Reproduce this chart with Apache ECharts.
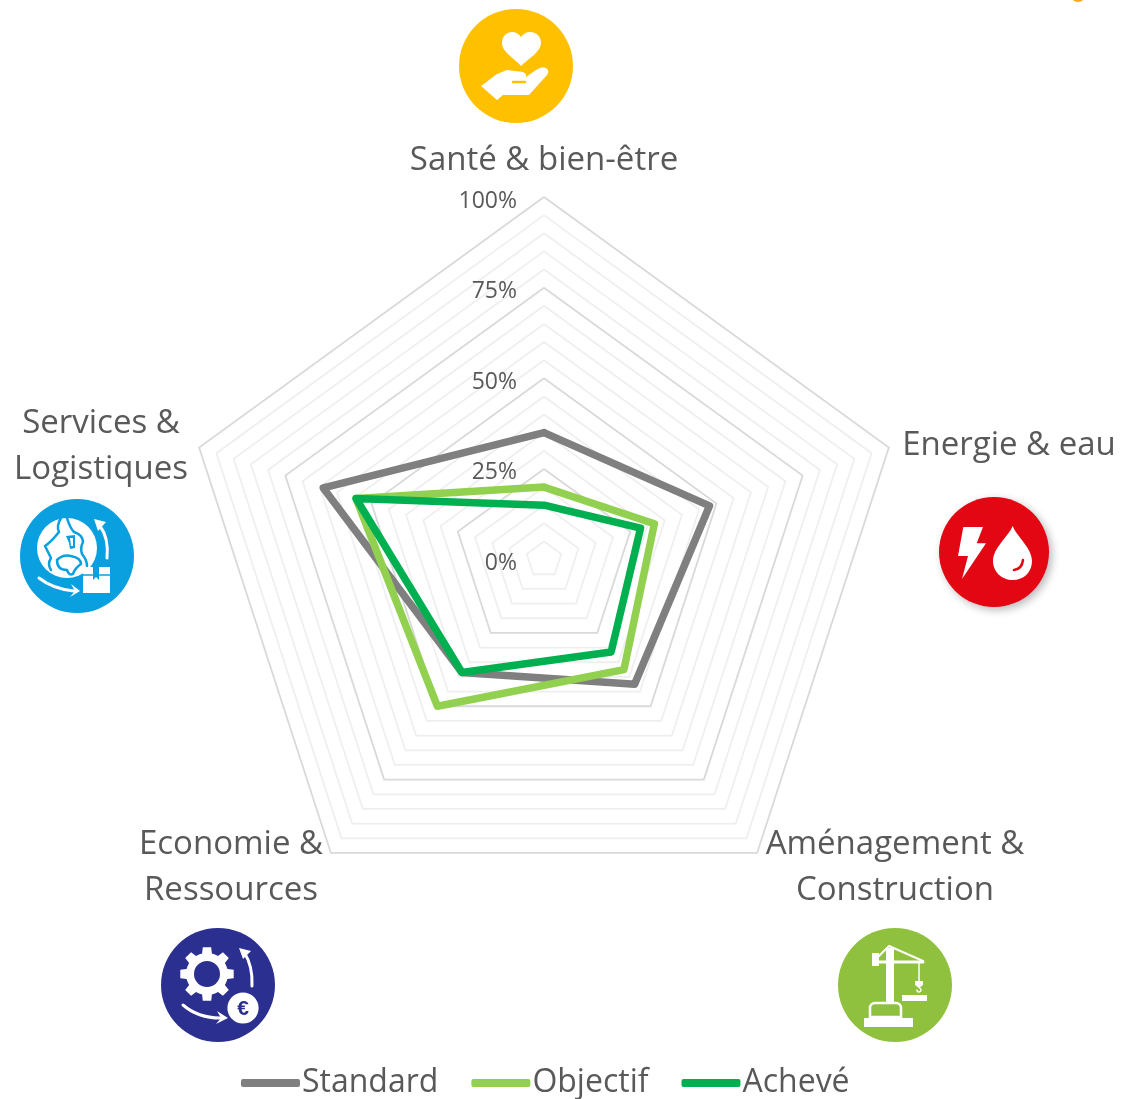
<!DOCTYPE html>
<html>
<head>
<meta charset="utf-8">
<style>
  html, body { margin: 0; padding: 0; background: #fff; }
  #radarChart { width: 1122px; height: 1099px; }
</style>
<script src="https://cdn.jsdelivr.net/npm/echarts@6/dist/echarts.min.js"></script>
</head>
<body>
<div id="radarChart"></div>
<script>
// radar axes run counter-clockwise from the top
const categories = ['Santé & bien-être', 'Services &\nLogistiques', 'Economie &\nRessources', 'Aménagement &\nConstruction', 'Energie & eau']
const standardValues = [35, 64, 38.5, 42.5, 48]
const objectifValues = [20, 54.5, 50, 37.5, 32]
const acheveValues = [15, 54.5, 38.5, 31.5, 28]

const FONT = '"Open Sans", sans-serif'
const TEXT_COLOR = '#595959'
const LABEL_SIZE = 33

// position of the category labels, same order as categories
const labelPos = [[544, 161], [101, 447], [231, 868], [895, 868], [1009, 446]]

function gearPath (cx, cy, outer, root, teeth) {
  let d = ''
  const step = Math.PI * 2 / teeth
  for (let i = 0; i < teeth; i++) {
    const a = i * step - Math.PI / 2
    const pts = [[root, a - step * 0.5], [root, a - step * 0.3], [outer, a - step * 0.2], [outer, a + step * 0.2], [root, a + step * 0.3]]
    pts.forEach((p, j) => {
      d += (i === 0 && j === 0 ? 'M' : 'L') + (cx + p[0] * Math.cos(p[1])).toFixed(1) + ' ' + (cy + p[0] * Math.sin(p[1])).toFixed(1) + ' '
    })
  }
  return d + 'Z'
}

// the graphic component has no plain path type, so each icon path gets registered as a shape
let shapeCount = 0
function pathElement (d, style) {
  const name = 'iconPath' + (shapeCount++)
  echarts.graphic.registerShape(name, echarts.graphic.extendPath(d, {}))
  return { type: name, style: style }
}
function fillPath (d, color) {
  return pathElement(d, { fill: color || '#fff' })
}
function linePath (d, color, width) {
  return pathElement(d, { fill: 'none', stroke: color || '#fff', lineWidth: width || 3, lineCap: 'round', lineJoin: 'round' })
}
function badge (x, y, r, color, children, shadow) {
  const style = { fill: color }
  if (shadow) {
    Object.assign(style, { shadowBlur: 8, shadowColor: 'rgba(0,0,0,0.28)', shadowOffsetX: 3, shadowOffsetY: 3 })
  }
  return {
    type: 'group', x: x, y: y,
    children: [{ type: 'circle', shape: { cx: 0, cy: 0, r: r }, style: style }].concat(children)
  }
}

const YELLOW = '#ffc000', RED = '#e30613', GREEN = '#8fc13e', NAVY = '#2b2f8f', BLUE = '#0a9fdf'

const healthIcon = [
  fillPath('M5 0 C-3 -9 -14 -14 -14 -23 C-14 -30 -9 -34 -4 -34 C0 -34 3 -32 5 -29 C7 -32 10 -34 14 -34 C20 -34 25 -30 25 -23 C25 -14 13 -8 5 0 Z'),
  fillPath('M-35 20 L-19 8 L-9 4 L7 6 Q11 8 10 11 L20 4 Q26 0 30 2 Q34 5 31 9 L13 29 L-13 29 L-19 34 Z'),
  linePath('M-3 16 L9 16', YELLOW, 2.5)
]
const energyIcon = [
  fillPath('M-30.7 -25 L-11 -25 L-17.3 -8.7 L-8 -8.7 L-32 27 L-26 4 L-36 4 Z'),
  fillPath('M18.7 -26 C23 -15 38 -4 38 9 C38 20 30 28 18.7 28 C8 28 -1 20 -1 9 C-1 -4 14 -15 18.7 -26 Z'),
  linePath('M29 8 Q28 17 20 18', RED, 2.5)
]
const craneIcon = [
  fillPath('M-9 -37 L-1 -37 L-1 17 L-9 17 Z'),
  fillPath('M-23 -32 L-16 -32 L-16 -19 L-23 -19 Z'),
  linePath('M-17 -23 L28 -23', '#fff', 3),
  linePath('M-17 -28 L-6 -39 L28 -24', '#fff', 2),
  linePath('M24 -23 L24 -3', '#fff', 1.5),
  fillPath('M20 -4 L28 -4 L28 0 L24 3 L20 0 Z'),
  linePath('M24 2 Q28 6 24 7 Q22 7 22 5', '#fff', 1.5),
  fillPath('M7 10 L32 10 L32 16 L7 16 Z'),
  fillPath('M-31 33 L18 33 L18 42 L-31 42 Z'),
  { type: 'rect', shape: { x: -25, y: 18, width: 31, height: 14, r: [5, 5, 0, 0] }, style: { fill: 'none', stroke: '#fff', lineWidth: 2.5 } }
]
const economyIcon = [
  fillPath(gearPath(-11, -11, 27, 21, 8)),
  { type: 'circle', shape: { cx: -11, cy: -11, r: 13 }, style: { fill: NAVY } },
  linePath('M34 1 Q35 -19 26 -33', '#fff', 3),
  fillPath('M21 -37 L33 -34 L25 -26 Z'),
  linePath('M-35 20 Q-20 33 2 33', '#fff', 3),
  fillPath('M-1 26 L3 33 L-2 39 L10 33 Z'),
  { type: 'circle', shape: { cx: 25, cy: 23, r: 15.6 }, style: { fill: '#fff' } },
  { type: 'text', x: 25, y: 24, style: { text: '€', fill: NAVY, font: 'bold 21px "Liberation Sans", sans-serif', align: 'center', verticalAlign: 'middle' } }
]
const logisticsIcon = [
  { type: 'circle', shape: { cx: -10, cy: -8, r: 30 }, style: { fill: '#fff' } },
  linePath('M-16 -38 Q-21 -30 -18 -24 Q-26 -14 -32 -10 Q-28 -2 -26 2 Q-30 8 -26 14', BLUE, 2.5),
  linePath('M-10 -38 Q-7 -28 -3 -24 Q6 -21 6 -14 Q3 -8 5 -2 Q10 4 10 10', BLUE, 2.5),
  linePath('M-20 4 Q-14 -2 -6 0 Q4 2 4 8 Q-2 12 -4 18 Q-8 20 -10 14 Q-20 14 -20 4 Z', BLUE, 2.5),
  fillPath('M-11 -20 L-2 -21 L-2 -8 L-7 -7 L-8 -13 Z', BLUE),
  fillPath('M-7 -18 L-4 -18 L-4 -10 L-6 -10 Z'),
  fillPath('M6 11 L33 11 L33 37 L6 37 Z'),
  linePath('M6 19 L33 19', BLUE, 1.5),
  fillPath('M16 11 L22 11 L22 24 L19 21 L16 24 Z', BLUE),
  linePath('M30 2 Q32 -18 23 -30', '#fff', 3),
  fillPath('M17 -37 L29 -34 L21 -25 Z'),
  linePath('M-38 22 Q-24 33 -3 35', '#fff', 3),
  fillPath('M-6 28 L-2 35 L-7 41 L3 35 Z')
]

const labelGraphics = categories.map((name, i) => ({
  type: 'text',
  x: labelPos[i][0],
  y: labelPos[i][1],
  style: { text: name, fill: TEXT_COLOR, font: LABEL_SIZE + 'px ' + FONT, align: 'center', verticalAlign: 'middle', lineHeight: 46 }
}))

// every fifth ring (25%) is darker
const ringColors = ['#d9d9d9', '#efefef', '#efefef', '#efefef', '#efefef']

const indicators = categories.map((name, i) => {
  const item = { name: name, min: 0, max: 100 }
  if (i === 0) {
    item.axisLabel = {
      show: true,
      margin: 27,
      color: TEXT_COLOR,
      fontFamily: FONT,
      fontSize: 23,
      verticalAlign: 'top',
      lineHeight: 8,
      formatter: function (value) {
        return value % 25 === 0 ? value + '%' : ''
      }
    }
  }
  return item
})

function radarSeriesItem (name, values, color) {
  return {
    name: name,
    value: values,
    symbol: 'none',
    lineStyle: { color: color, width: 7.5, join: 'round', cap: 'round' },
    itemStyle: { color: color }
  }
}

const myChart = echarts.init(document.getElementById('radarChart'))
myChart.setOption({
  animation: false,
  textStyle: { fontFamily: FONT },
  legend: {
    data: ['Standard', 'Objectif', 'Achevé'],
    left: 241,
    top: 1067,
    padding: 0,
    itemWidth: 59,
    itemHeight: 8,
    itemGap: 33,
    icon: 'roundRect',
    textStyle: { color: TEXT_COLOR, fontFamily: FONT, fontSize: 32, padding: [0, 0, 0, -3] }
  },
  radar: {
    center: [544, 559.6],
    radius: 362.6,
    startAngle: 90,
    splitNumber: 20,
    shape: 'polygon',
    indicator: indicators,
    axisName: { show: false },
    axisLine: { show: false },
    axisTick: { show: false },
    splitArea: { show: false },
    splitLine: { show: true, lineStyle: { color: ringColors, width: 1.8 } }
  },
  series: [{
    type: 'radar',
    data: [
      radarSeriesItem('Standard', standardValues, '#7f7f7f'),
      radarSeriesItem('Objectif', objectifValues, '#92d050'),
      radarSeriesItem('Achevé', acheveValues, '#00b050')
    ]
  }],
  graphic: labelGraphics.concat([
    badge(516, 66, 57, YELLOW, healthIcon),
    badge(994, 552, 55, RED, energyIcon, true),
    badge(895, 985, 57, GREEN, craneIcon),
    badge(218, 985, 57, NAVY, economyIcon),
    badge(77, 556, 57, BLUE, logisticsIcon),
    { type: 'circle', shape: { cx: 1078, cy: -6, r: 8 }, style: { fill: '#f9a825' } }
  ])
})
</script>
</body>
</html>
